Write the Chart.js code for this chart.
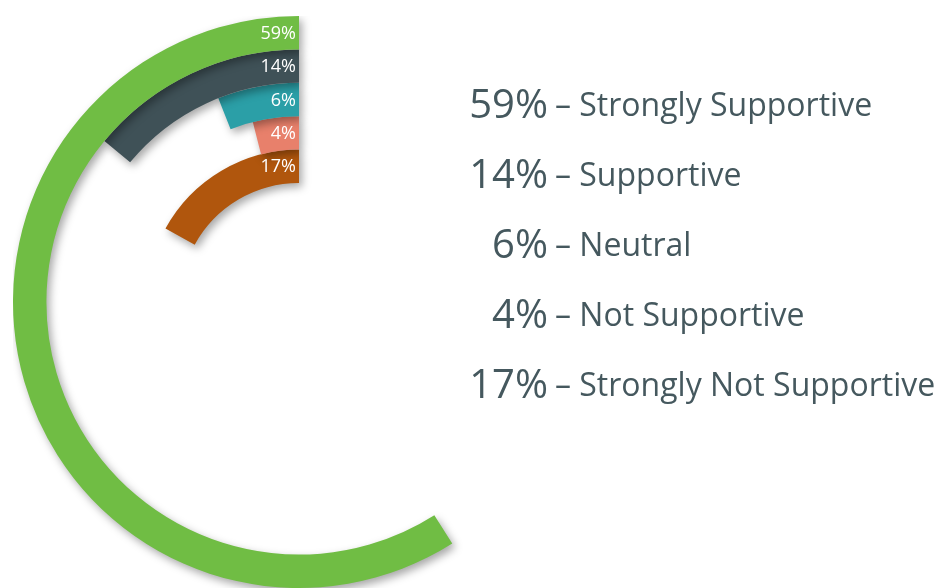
<!DOCTYPE html>
<html>
<head>
<meta charset="utf-8">
<script src="https://cdn.jsdelivr.net/npm/chart.js@4.4.0/dist/chart.umd.min.js"></script>
<style>
    html, body { margin: 0; padding: 0; background: #fff; overflow: hidden; }
    body { width: 949px; height: 588px; position: relative; font-family: 'Open Sans', 'Noto Sans', sans-serif; }
    #chart-wrap { position: absolute; left: 13px; top: 16px; width: 572px; height: 572px; }
    #legend { position: absolute; left: 440px; top: 78px; color: #45585e; }
    .row { position: relative; height: 70px; white-space: nowrap; }
    .pct { position: absolute; right: calc(100% - 108px); width: 120px; text-align: right; font-size: 40px; top: 0; line-height: 50px; }
    .lbl { position: absolute; left: 115px; font-size: 32px; top: 4px; line-height: 44px; }
</style>
</head>
<body>
<div id="chart-wrap"><canvas id="radial-chart"></canvas></div>
<div id="legend"></div>

<script>
var categories = ['Strongly Supportive', 'Supportive', 'Neutral', 'Not Supportive', 'Strongly Not Supportive']
var values = [59, 14, 6, 4, 17]
var colors = ['#70bd44', '#3f5157', '#2b9fa7', '#e8806b', '#b0560d']

// legend on the right
var legendHtml = ''
categories.forEach(function(cat, i){
    legendHtml += "<div class='row'><span class='pct'>" + values[i] + "%</span><span class='lbl'>\u2013 " + cat + "</span></div>"
})
document.getElementById('legend').innerHTML = legendHtml

// shadow under the arcs
const shadowPlugin = {
    id: 'arcShadow',
    beforeDatasetsDraw: function(chart){
        const ctx = chart.ctx
        ctx.save()
        ctx.shadowColor = 'rgba(0,0,0,0.35)'
        ctx.shadowBlur = 8
        ctx.shadowOffsetX = 3
        ctx.shadowOffsetY = 4
    },
    afterDatasetsDraw: function(chart){
        chart.ctx.restore()
    }
}

// percent labels at the top end of each ring
const ringLabels = {
    id: 'ringLabels',
    afterDraw: function(chart){
        const ctx = chart.ctx
        ctx.save()
        ctx.fillStyle = '#ffffff'
        ctx.font = "18px 'Open Sans', sans-serif"
        ctx.textAlign = 'right'
        ctx.textBaseline = 'middle'
        chart.data.datasets.forEach(function(ds, i){
            const arc = chart.getDatasetMeta(i).data[1]
            const mid = (arc.innerRadius + arc.outerRadius) / 2
            ctx.fillText(values[i] + '%', arc.x - 3, arc.y - mid + 1)
        })
        ctx.restore()
    }
}

const datasets = values.map(function(v, i){
    return {
        label: categories[i],
        data: [100 - v, v],
        backgroundColor: ['rgba(0,0,0,0)', colors[i]],
        borderWidth: 0
    }
})

const ctx = document.getElementById('radial-chart').getContext('2d')
const myChart = new Chart(ctx, {
    type: 'doughnut',
    data: {
        labels: ['rest', 'value'],
        datasets: datasets
    },
    options: {
        responsive: true,
        maintainAspectRatio: false,
        animation: false,
        cutout: '41.6%',
        events: [],
        layout: { padding: 0 },
        plugins: {
            legend: { display: false },
            tooltip: { enabled: false }
        }
    },
    plugins: [shadowPlugin, ringLabels]
})
</script>
</body>
</html>
